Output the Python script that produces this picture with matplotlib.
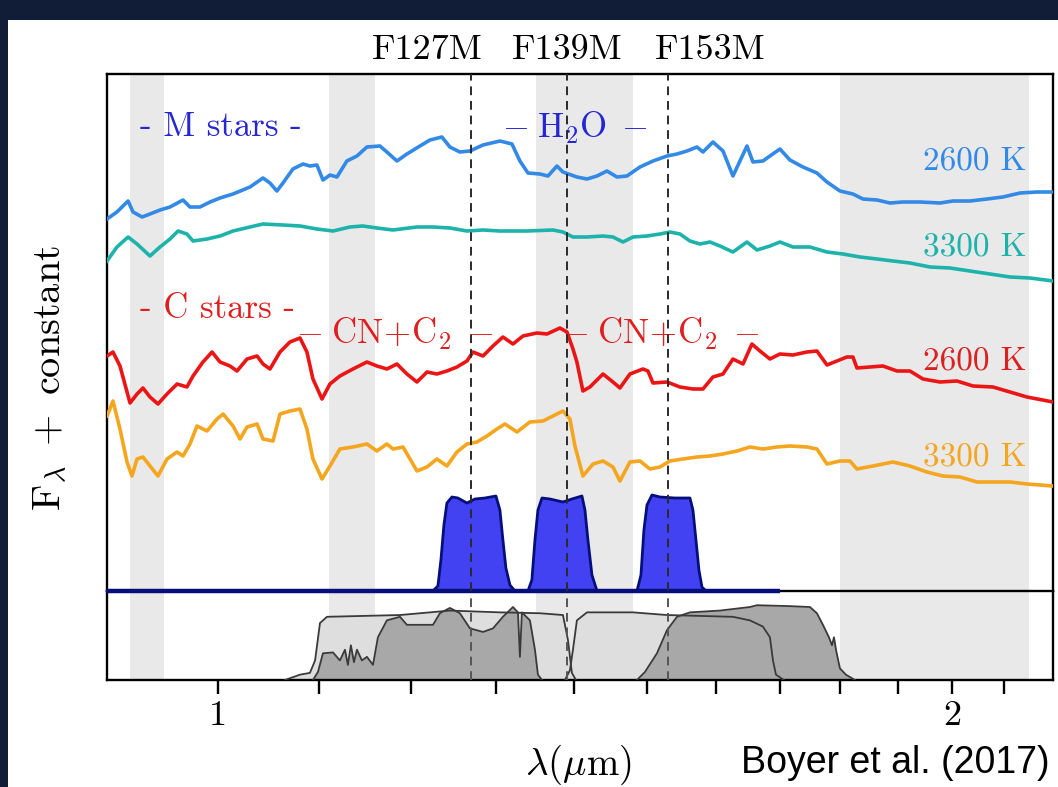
import matplotlib
matplotlib.use("Agg")
import matplotlib.pyplot as plt
import matplotlib.transforms as mtransforms
from matplotlib.patches import Rectangle
from matplotlib.ticker import FixedLocator, FixedFormatter, NullFormatter, NullLocator

# ---------------------------------------------------------------- data
# Model spectra (wavelength in micron, F_lambda + constant)
m2600_wl = [0.9005, 0.9090, 0.9186, 0.9229, 0.9308, 0.9378, 0.9467, 0.9557, 0.9675, 0.9739,
            0.9831, 0.9925, 1.0019, 1.0143, 1.0307, 1.0434, 1.0503, 1.0572, 1.0633, 1.0733,
            1.0835, 1.0907, 1.0979, 1.1042, 1.1115, 1.1189, 1.1294, 1.1402, 1.1510, 1.1652,
            1.1729, 1.1841, 1.1953, 1.2101, 1.2216, 1.2354, 1.2448, 1.2566, 1.2686, 1.2843,
            1.3050, 1.3199, 1.3299, 1.3400, 1.3553, 1.3656, 1.3772, 1.3850, 1.4034, 1.4168,
            1.4303, 1.4438, 1.4575, 1.4713, 1.4895, 1.5079, 1.5280, 1.5425, 1.5571, 1.5719,
            1.5808, 1.5958, 1.6110, 1.6262, 1.6370, 1.6479, 1.6572, 1.6729, 1.6840, 1.7000,
            1.7161, 1.7373, 1.7604, 1.7772, 1.7991, 1.8213, 1.8386, 1.8631, 1.8861, 1.9094,
            1.9403, 1.9773, 2.0017, 2.0341, 2.0671, 2.0985, 2.1325, 2.1670, 2.2000]
m2600_f = [3.72, 3.79, 3.90, 3.79, 3.74, 3.77, 3.81, 3.84, 3.91, 3.84,
           3.84, 3.89, 3.93, 3.97, 4.04, 4.13, 4.08, 4.00, 4.08, 4.22,
           4.27, 4.25, 4.26, 4.11, 4.16, 4.14, 4.30, 4.35, 4.44, 4.45,
           4.39, 4.30, 4.37, 4.45, 4.51, 4.54, 4.44, 4.39, 4.40, 4.46,
           4.50, 4.47, 4.30, 4.18, 4.17, 4.15, 4.25, 4.19, 4.14, 4.12,
           4.15, 4.20, 4.14, 4.15, 4.24, 4.30, 4.35, 4.37, 4.40, 4.44,
           4.39, 4.49, 4.40, 4.15, 4.30, 4.45, 4.29, 4.30, 4.35, 4.42,
           4.31, 4.24, 4.18, 4.09, 4.00, 3.97, 3.92, 3.91, 3.88, 3.89,
           3.89, 3.88, 3.90, 3.90, 3.92, 3.94, 3.98, 3.99, 3.99]

m3300_wl = [0.9005, 0.9090, 0.9186, 0.9264, 0.9378, 0.9467, 0.9557, 0.9630, 0.9711, 0.9767,
            0.9897, 1.0019, 1.0143, 1.0307, 1.0434, 1.0633, 1.0805, 1.0979, 1.1147, 1.1327,
            1.1466, 1.1619, 1.1797, 1.2067, 1.2251, 1.2448, 1.2650, 1.2843, 1.3050, 1.3387,
            1.3720, 1.3850, 1.3982, 1.4168, 1.4384, 1.4520, 1.4658, 1.4797, 1.4994, 1.5179,
            1.5323, 1.5468, 1.5615, 1.5763, 1.5913, 1.6064, 1.6262, 1.6479, 1.6635, 1.6840,
            1.7000, 1.7210, 1.7488, 1.7772, 1.8042, 1.8334, 1.8631, 1.8915, 1.9220, 1.9587,
            1.9960, 2.0341, 2.0729, 2.1124, 2.1527, 2.2000]
m3300_f = [3.30, 3.44, 3.54, 3.47, 3.35, 3.44, 3.52, 3.60, 3.57, 3.50,
           3.52, 3.55, 3.60, 3.64, 3.67, 3.66, 3.65, 3.62, 3.60, 3.64,
           3.65, 3.63, 3.61, 3.64, 3.64, 3.63, 3.60, 3.61, 3.60, 3.60,
           3.61, 3.59, 3.54, 3.54, 3.55, 3.54, 3.49, 3.54, 3.55, 3.57,
           3.59, 3.57, 3.50, 3.47, 3.49, 3.45, 3.39, 3.49, 3.41, 3.45,
           3.49, 3.44, 3.44, 3.39, 3.37, 3.34, 3.32, 3.30, 3.28, 3.24,
           3.23, 3.20, 3.17, 3.14, 3.13, 3.10]

c2600_wl = [0.9005, 0.9056, 0.9116, 0.9203, 0.9264, 0.9316, 0.9378, 0.9449, 0.9530, 0.9621,
            0.9711, 0.9767, 0.9859, 0.9944, 1.0019, 1.0114, 1.0181, 1.0278, 1.0376, 1.0434,
            1.0503, 1.0603, 1.0703, 1.0805, 1.0876, 1.0938, 1.1032, 1.1115, 1.1220, 1.1359,
            1.1510, 1.1619, 1.1729, 1.1841, 1.1953, 1.2067, 1.2182, 1.2296, 1.2413, 1.2531,
            1.2650, 1.2722, 1.2843, 1.2965, 1.3087, 1.3212, 1.3337, 1.3514, 1.3643, 1.3811,
            1.3903, 1.3982, 1.4034, 1.4114, 1.4208, 1.4384, 1.4520, 1.4616, 1.4755, 1.4937,
            1.5008, 1.5079, 1.5280, 1.5468, 1.5659, 1.5808, 1.5958, 1.6110, 1.6262, 1.6417,
            1.6556, 1.6682, 1.6840, 1.7000, 1.7210, 1.7439, 1.7604, 1.7772, 1.7940, 1.8109,
            1.8213, 1.8282, 1.8508, 1.8736, 1.8986, 1.9220, 1.9458, 1.9773, 2.0093, 2.0399,
            2.0788, 2.1124, 2.1466, 2.2000]
c2600_f = [2.35, 2.39, 2.25, 1.88, 1.97, 2.03, 1.94, 1.87, 1.97, 2.07,
           2.04, 2.15, 2.29, 2.39, 2.29, 2.25, 2.20, 2.32, 2.35, 2.27,
           2.22, 2.39, 2.49, 2.53, 2.39, 2.12, 1.92, 2.07, 2.15, 2.22,
           2.29, 2.25, 2.22, 2.27, 2.17, 2.09, 2.19, 2.17, 2.20, 2.24,
           2.30, 2.39, 2.35, 2.45, 2.54, 2.47, 2.55, 2.58, 2.57, 2.63,
           2.59, 2.42, 2.29, 2.00, 2.04, 2.17, 2.09, 2.03, 2.17, 2.22,
           2.20, 2.08, 2.09, 2.04, 2.02, 2.02, 2.14, 2.17, 2.32, 2.27,
           2.47, 2.40, 2.32, 2.37, 2.36, 2.39, 2.40, 2.26, 2.30, 2.34,
           2.34, 2.23, 2.24, 2.25, 2.20, 2.20, 2.12, 2.09, 2.10, 2.05,
           2.04, 1.99, 1.94, 1.89]

c3300_wl = [0.9005, 0.9056, 0.9116, 0.9177, 0.9220, 0.9264, 0.9316, 0.9378, 0.9449, 0.9530,
            0.9621, 0.9675, 0.9739, 0.9803, 0.9897, 0.9991, 1.0048, 1.0143, 1.0210, 1.0278,
            1.0376, 1.0434, 1.0533, 1.0603, 1.0703, 1.0805, 1.0876, 1.0938, 1.1032, 1.1115,
            1.1220, 1.1359, 1.1510, 1.1619, 1.1729, 1.1797, 1.1909, 1.2067, 1.2182, 1.2296,
            1.2413, 1.2531, 1.2650, 1.2770, 1.2891, 1.3013, 1.3112, 1.3262, 1.3425, 1.3592,
            1.3720, 1.3850, 1.3942, 1.4008, 1.4114, 1.4249, 1.4384, 1.4520, 1.4616, 1.4755,
            1.4895, 1.5036, 1.5179, 1.5323, 1.5512, 1.5719, 1.5913, 1.6110, 1.6324, 1.6525,
            1.6729, 1.6952, 1.7161, 1.7439, 1.7604, 1.7772, 1.7991, 1.8161, 1.8282, 1.8561,
            1.8915, 1.9220, 1.9532, 1.9829, 2.0150, 2.0476, 2.0788, 2.1124, 2.1466, 2.2000]
c3300_f = [1.75, 1.90, 1.62, 1.29, 1.15, 1.32, 1.34, 1.25, 1.15, 1.32,
           1.39, 1.35, 1.47, 1.65, 1.60, 1.72, 1.77, 1.65, 1.52, 1.64,
           1.67, 1.52, 1.50, 1.77, 1.80, 1.82, 1.62, 1.32, 1.12, 1.25,
           1.42, 1.44, 1.47, 1.40, 1.47, 1.42, 1.44, 1.20, 1.24, 1.32,
           1.25, 1.39, 1.47, 1.49, 1.55, 1.62, 1.67, 1.59, 1.69, 1.70,
           1.75, 1.80, 1.72, 1.45, 1.15, 1.27, 1.30, 1.24, 1.10, 1.29,
           1.30, 1.22, 1.24, 1.30, 1.32, 1.34, 1.35, 1.37, 1.40, 1.44,
           1.42, 1.44, 1.45, 1.44, 1.42, 1.27, 1.30, 1.30, 1.22, 1.25,
           1.29, 1.25, 1.19, 1.15, 1.14, 1.09, 1.09, 1.09, 1.07, 1.05]

# Medium-band filter throughputs (same vertical units as the spectra)
filter_names = ["F127M", "F139M", "F153M"]
filter_centers = [1.27, 1.39, 1.53]
f127_wl = [1.2250, 1.2308, 1.2343, 1.2378, 1.2413, 1.2472, 1.2542, 1.2650, 1.2746,
           1.2867, 1.3001, 1.3050, 1.3087, 1.3124, 1.3174, 1.3237]
f127_t = [0, 0.05, 0.31, 0.66, 0.88, 0.94, 0.93, 0.88, 0.92,
          0.93, 0.95, 0.81, 0.51, 0.23, 0.06, 0]
f139_wl = [1.3400, 1.3450, 1.3489, 1.3527, 1.3579, 1.3681, 1.3850, 1.3968, 1.4101,
           1.4141, 1.4181, 1.4235, 1.4303]
f139_t = [0, 0.11, 0.51, 0.81, 0.93, 0.92, 0.89, 0.92, 0.95, 0.81, 0.51, 0.16, 0]
f153_wl = [1.4853, 1.4909, 1.4951, 1.4994, 1.5065, 1.5179, 1.5395, 1.5615, 1.5659,
           1.5704, 1.5748, 1.5793, 1.5853]
f153_t = [0, 0.16, 0.61, 0.86, 0.96, 0.94, 0.93, 0.93, 0.81, 0.51, 0.21, 0.04, 0]
filter_baseline = [0.90, 1.70]

# Broad-band throughputs (lower panel)
wide1_wl = [1.0653, 1.0805, 1.0907, 1.0960, 1.1011, 1.1084, 1.1875, 1.2448, 1.3050,
            1.3553, 1.3850, 1.3916, 1.3968, 1.4021]
wide1_t = [0, 0.06, 0.08, 0.22, 0.64, 0.71, 0.73, 0.78, 0.76, 0.75, 0.73, 0.45, 0.08, 0]
wide2_wl = [1.3876, 1.3942, 1.3982, 1.4034, 1.4168, 1.4797, 1.5280, 1.5763, 1.6262,
            1.6525, 1.6729, 1.6840, 1.6888, 1.6936, 1.7064]
wide2_t = [0, 0.11, 0.34, 0.67, 0.76, 0.76, 0.73, 0.72, 0.71, 0.67, 0.60, 0.48, 0.22, 0.06, 0]
band_j_wl = [1.0938, 1.0990, 1.1042, 1.1147, 1.1220, 1.1274, 1.1305, 1.1337, 1.1370,
             1.1402, 1.1456, 1.1510, 1.1576, 1.1630, 1.1729, 1.1875, 1.1953, 1.2251,
             1.2331, 1.2448, 1.2566, 1.2686, 1.2843, 1.2965, 1.3087, 1.3212, 1.3274,
             1.3299, 1.3324, 1.3425, 1.3489, 1.3527, 1.3579]
band_j_t = [0, 0.09, 0.30, 0.31, 0.22, 0.34, 0.17, 0.39, 0.20,
            0.34, 0.22, 0.26, 0.17, 0.48, 0.67, 0.71, 0.62, 0.62,
            0.75, 0.81, 0.75, 0.58, 0.54, 0.58, 0.71, 0.82, 0.76,
            0.26, 0.76, 0.67, 0.34, 0.06, 0]
band_h_wl = [1.4853, 1.4965, 1.5136, 1.5280, 1.5425, 1.5615, 1.6064, 1.6525, 1.6635,
             1.7161, 1.7488, 1.7604, 1.7704, 1.7805, 1.7856, 1.7890, 1.7924, 1.7991,
             1.8093, 1.8247]
band_h_t = [0, 0.09, 0.30, 0.56, 0.71, 0.76, 0.78, 0.82, 0.84,
            0.83, 0.82, 0.75, 0.62, 0.48, 0.39, 0.48, 0.34, 0.13, 0.06, 0]

# Shaded wavelength windows
bands = [(0.92, 0.95), (1.11, 1.16), (1.35, 1.48), (1.80, 2.15)]

# ---------------------------------------------------------------- style
plt.rcParams["mathtext.fontset"] = "cm"
plt.rcParams["font.family"] = "cmr10"
plt.rcParams["axes.formatter.use_mathtext"] = True
FS = 26       # filter names, tick labels
FS_IN = 25    # in-panel annotations
FS_T = 24     # temperature labels

W, H = 1058, 787
fig = plt.figure(figsize=(W / 100, H / 100), dpi=100, facecolor="#111c36")
fig.patches.append(Rectangle((8 / W, 0), 1, 1 - 20 / H, transform=fig.transFigure,
                             facecolor="white", edgecolor="none", zorder=-10))

ax = fig.add_axes([107 / W, 1 - 591 / H, 946 / W, 517 / H])
axb = fig.add_axes([107 / W, 1 - 680 / H, 946 / W, 89 / H])
ax.set_zorder(3)

for a in (ax, axb):
    a.set_xscale("log")
    a.set_xlim(0.9005, 2.2)
    for lo, hi in bands:
        a.axvspan(lo, hi, color="#e9e9e9", lw=0, zorder=0)
    for s in a.spines.values():
        s.set_linewidth(1.7)
axb.spines["top"].set_visible(False)

ax.set_ylim(0, 5.17)
axb.set_ylim(0, 1)

# spectra
ax.plot(m2600_wl, m2600_f, color="#3289e6", lw=2.6, zorder=3)
ax.plot(m3300_wl, m3300_f, color="#1db3ab", lw=2.6, zorder=3)
ax.plot(c2600_wl, c2600_f, color="#ec1515", lw=2.6, zorder=3)
ax.plot(c3300_wl, c3300_f, color="#f5a51e", lw=2.6, zorder=3)

# medium-band filters
ax.plot(filter_baseline, [0, 0], color="#050f7a", lw=3.2, zorder=6, clip_on=False,
        solid_capstyle="butt")
for wl, t in ((f127_wl, f127_t), (f139_wl, f139_t), (f153_wl, f153_t)):
    ax.fill_between(wl, 0, t, color="#4242f2", lw=0, zorder=4)
    ax.plot(wl, t, color="#050f7a", lw=2.0, zorder=5)

# filter centre markers
for c in filter_centers:
    ax.axvline(c, color="#2a2a2a", ls=(0, (4.5, 3)), lw=1.4, zorder=7)
    axb.axvline(c, color="#555555", ls=(0, (4.5, 3)), lw=1.4, zorder=4)

# broad-band throughputs
for wl, t in ((wide1_wl, wide1_t), (wide2_wl, wide2_t)):
    axb.fill_between(wl, 0, t, color="#dedede", lw=0, zorder=1)
for wl, t in ((band_j_wl, band_j_t), (band_h_wl, band_h_t)):
    axb.fill_between(wl, 0, t, color="#a8a8a8", lw=0, zorder=2)
for wl, t in ((wide1_wl, wide1_t), (wide2_wl, wide2_t),
              (band_j_wl, band_j_t), (band_h_wl, band_h_t)):
    axb.plot(wl, t, color="#3a3a3a", lw=1.3, zorder=3)

# axes ticks
ax.xaxis.set_major_locator(NullLocator())
ax.xaxis.set_minor_locator(NullLocator())
ax.set_yticks([])
axb.set_yticks([])
axb.xaxis.set_major_locator(FixedLocator([1, 2]))
axb.xaxis.set_major_formatter(FixedFormatter(["1", "2"]))
axb.xaxis.set_minor_locator(FixedLocator([1.1, 1.2, 1.3, 1.4, 1.5, 1.6, 1.7, 1.8, 1.9, 2.1]))
axb.xaxis.set_minor_formatter(NullFormatter())
axb.tick_params(axis="x", which="both", direction="out", length=10, width=1.7,
                top=False, labelsize=FS, pad=5)

# annotations
trans = mtransforms.blended_transform_factory(ax.transData, ax.transAxes)
for name, xl in zip(filter_names, [1.219, 1.390, 1.591]):
    ax.text(xl, 1.046, name, transform=trans, ha="center", va="center", fontsize=FS)

ax.text(0.929, 4.64, "- M stars -", color="#2626d2", fontsize=FS_IN, ha="left", va="center")
ax.text(1.400, 4.63, r"$-\;\mathrm{H_2O}\;-$", color="#2626d2", fontsize=FS_IN,
        ha="center", va="center")
ax.text(0.929, 2.82, "- C stars -", color="#e01e1e", fontsize=FS_IN, ha="left", va="center")
ax.text(1.181, 2.57, r"$-\;\mathrm{CN\!+\!C_2}\;-$", color="#e01e1e", fontsize=FS_IN,
        ha="center", va="center")
ax.text(1.519, 2.57, r"$-\;\mathrm{CN\!+\!C_2}\;-$", color="#e01e1e", fontsize=FS_IN,
        ha="center", va="center")

ax.text(2.145, 4.30, "2600 K", color="#3289e6", fontsize=FS_T, ha="right", va="center")
ax.text(2.145, 3.44, "3300 K", color="#1db3ab", fontsize=FS_T, ha="right", va="center")
ax.text(2.145, 2.30, "2600 K", color="#dc2020", fontsize=FS_T, ha="right", va="center")
ax.text(2.145, 1.34, "3300 K", color="#f5a51e", fontsize=FS_T, ha="right", va="center")

fig.text(50 / W, 1 - 378 / H, r"$\mathrm{F}_\lambda\ +\ \mathrm{constant}$", rotation=90,
         ha="center", va="center", fontsize=29)
fig.text(578 / W, 1 - 765 / H, r"$\lambda(\mu\mathrm{m})$", ha="center", va="center",
         fontsize=28)
fig.text(1050 / W, 1 - 763 / H, "Boyer et al. (2017)", ha="right", va="center",
         fontsize=27, family=["Liberation Sans Narrow", "Liberation Sans", "DejaVu Sans"])

fig.savefig("out.png", dpi=100, facecolor=fig.get_facecolor())
